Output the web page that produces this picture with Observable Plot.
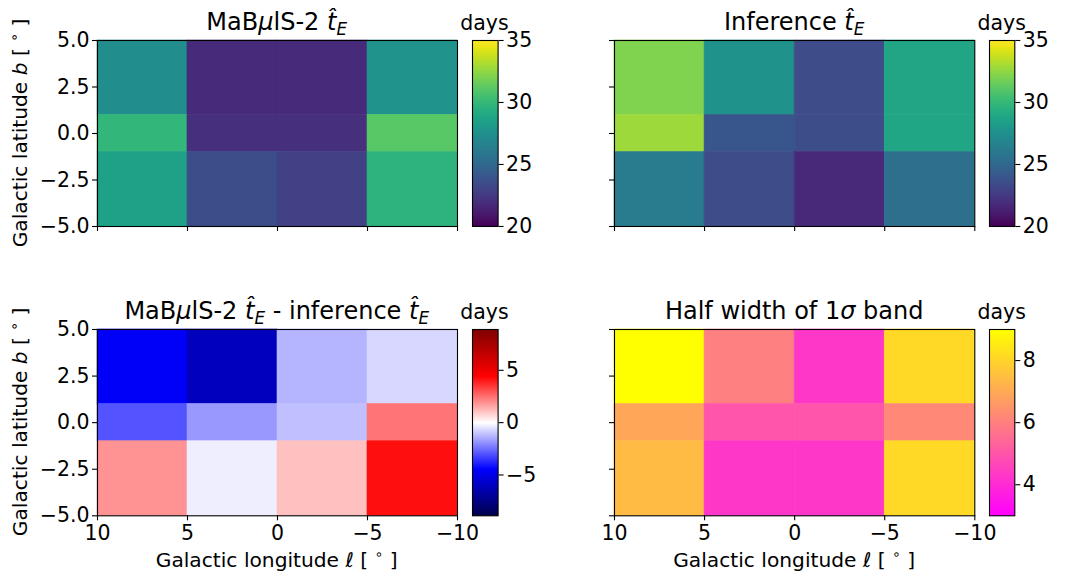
<!DOCTYPE html>
<html><head><meta charset="utf-8">
<script src="https://cdn.jsdelivr.net/npm/d3@7"></script>
<script src="https://cdn.jsdelivr.net/npm/@observablehq/plot@0.6"></script>
<style>
body{margin:0;background:#fff;}
#fig{position:relative;width:1070px;height:580px;background:#fff;overflow:hidden;font-family:"DejaVu Sans";}
#fig svg{position:absolute;overflow:visible;}
</style></head><body><div id="fig"></div>
<script>
// bin edges
const lonEdges = [10, 5, 0, -5, -10];        // ℓ, left to right
const latEdges = [5, 1, -1, -5];             // b, top to bottom
const lonTicks = [10, 5, 0, -5, -10];
const latTicks = [-5, -2.5, 0, 2.5, 5];
// rows: b 1..5, b -1..1, b -5..-1 ; columns: ℓ 10..5, 5..0, 0..-5, -5..-10
const mabulsTE = [
  [27.3, 21.8, 21.8, 27.7],
  [29.9, 22.1, 22.1, 31.1],
  [28.5, 23.5, 22.9, 29.7]
];
const inferenceTE = [
  [32.1, 27.6, 23.4, 28.8],
  [32.8, 24.0, 23.5, 28.9],
  [26.2, 23.4, 21.7, 25.4]
];
const diffTE = [
  [-4.6, -6.1, -1.3, -0.7],
  [-3.0, -1.8, -1.1, 2.4],
  [1.9, -0.3, 1.1, 4.2]
];
const halfWidth = [
  [9.0, 6.0, 4.3, 8.1],
  [6.9, 5.0, 5.0, 6.2],
  [7.4, 4.3, 4.3, 8.1]
];
const teDomain = [20, 35];
const teTicks = [20, 25, 30, 35];
const diffDomain = [-8.9, 8.9];
const diffTicks = [-5, 0, 5];
const widthDomain = [3, 9];
const widthTicks = [4, 6, 8];

const seismic = ["rgb(0,0,77)", "rgb(0,0,255)", "rgb(255,255,255)", "rgb(255,0,0)", "rgb(128,0,0)"];
const colorTE = {type: "linear", scheme: "viridis", domain: teDomain, clamp: true};
const colorDiff = {type: "linear", domain: [diffDomain[0], diffDomain[0]/2, 0, diffDomain[1]/2, diffDomain[1]], range: seismic, interpolate: "rgb", clamp: true};
const colorWidth = {type: "linear", domain: widthDomain, range: ["#ff00ff", "#ffff00"], interpolate: "rgb", clamp: true};

const fig = document.getElementById("fig");
const FS = 20.5;   // tick labels
const LS = 20.2;   // axis labels
const TS = 24;     // titles
const baseStyle = {fontFamily: '"DejaVu Sans"', fontSize: FS + "px", color: "#000", background: "transparent", overflow: "visible"};

function cellsOf(values) {
  const out = [];
  values.forEach((row, i) => row.forEach((v, j) => out.push({
    l1: lonEdges[j], l2: lonEdges[j + 1], b1: latEdges[i + 1], b2: latEdges[i], v
  })));
  return out;
}

const M = {l: 110, r: 20, t: 50, b: 80};
function heatmap(fr, values, color, showX, showY) {
  const w = fr.x1 - fr.x0, h = fr.y1 - fr.y0;
  const svg = Plot.plot({
    width: w + M.l + M.r, height: h + M.t + M.b,
    marginLeft: M.l, marginRight: M.r, marginTop: M.t, marginBottom: M.b,
    style: baseStyle,
    x: {type: "linear", domain: [10, -10]},
    y: {type: "linear", domain: [-5, 5]},
    color,
    marks: [
      Plot.rect(cellsOf(values), {x1: "l1", x2: "l2", y1: "b1", y2: "b2", fill: "v", stroke: "v", strokeWidth: 0.6}),
      Plot.frame({stroke: "#000", strokeWidth: 1.1}),
      Plot.axisX({ticks: lonTicks, tickSize: 5, tickPadding: 5, strokeWidth: 1.1, label: null,
        tickFormat: showX ? d3.format("d") : () => ""}),
      Plot.axisY({ticks: latTicks, tickSize: 5, tickPadding: 3, strokeWidth: 1.1, label: null,
        tickFormat: showY ? d3.format(".1f") : () => ""})
    ]
  });
  svg.style.left = (fr.x0 - M.l) + "px";
  svg.style.top = (fr.y0 - M.t) + "px";
  fig.appendChild(svg);
}

const C = {l: 10, r: 60, t: 50, b: 30};
function colorbar(fr, color, domain, ticks, fmt) {
  const w = fr.x1 - fr.x0, h = fr.y1 - fr.y0;
  const svg = Plot.plot({
    width: w + C.l + C.r, height: h + C.t + C.b,
    marginLeft: C.l, marginRight: C.r, marginTop: C.t, marginBottom: C.b,
    style: baseStyle,
    x: {domain: [0, 1], axis: null},
    y: {type: "linear", domain},
    color,
    marks: [
      Plot.raster({x1: 0, x2: 1, y1: domain[0], y2: domain[1], fill: (x, y) => y, width: 2, height: 400}),
      Plot.frame({stroke: "#000", strokeWidth: 1.1}),
      Plot.axisY({anchor: "right", ticks, tickFormat: fmt, tickSize: 5, tickPadding: 3, strokeWidth: 1.1, label: null})
    ]
  });
  svg.style.left = (fr.x0 - C.l) + "px";
  svg.style.top = (fr.y0 - C.t) + "px";
  fig.appendChild(svg);
}

const P1 = {x0: 96.7, x1: 456.7, y0: 40, y1: 226};
const P2 = {x0: 614, x1: 974.3, y0: 40, y1: 226};
const P3 = {x0: 96.7, x1: 456.7, y0: 328.7, y1: 515};
const P4 = {x0: 614, x1: 974.3, y0: 328.7, y1: 515};
const CB1 = {x0: 471.7, x1: 497.3, y0: 40, y1: 226};
const CB2 = {x0: 989, x1: 1014.3, y0: 40, y1: 226};
const CB3 = {x0: 471.7, x1: 497.3, y0: 328.7, y1: 515};
const CB4 = {x0: 989, x1: 1014.3, y0: 328.7, y1: 515};

heatmap(P1, mabulsTE, colorTE, false, true);
heatmap(P2, inferenceTE, colorTE, false, false);
heatmap(P3, diffTE, colorDiff, true, true);
heatmap(P4, halfWidth, colorWidth, true, false);
colorbar(CB1, colorTE, teDomain, teTicks, d3.format("d"));
colorbar(CB2, colorTE, teDomain, teTicks, d3.format("d"));
colorbar(CB3, colorDiff, diffDomain, diffTicks, d3.format("d"));
colorbar(CB4, colorWidth, widthDomain, widthTicks, d3.format("d"));

// text overlay
const ov = d3.select(fig).append("svg").attr("width", 1070).attr("height", 580)
  .style("left", "0px").style("top", "0px").style("pointer-events", "none")
  .attr("font-family", '"DejaVu Sans"').attr("fill", "#000");

function rich(x, y, segs, size, rotate) {
  const t = ov.append("text").attr("x", x).attr("y", y).attr("text-anchor", "middle")
    .attr("font-size", size);
  if (rotate) t.attr("transform", `rotate(${rotate},${x},${y})`);
  let cur = 0;
  segs.forEach(([str, f]) => {
    f = f || "";
    let off = 0, fs = size;
    if (f.includes("_")) { off = 0.22 * size; fs = 0.7 * size; }
    if (f.includes("^")) { off = -0.42 * size; fs = 0.7 * size; }
    const ts = t.append("tspan").text(str).attr("font-size", fs).attr("dy", off - cur);
    if (f.includes("i")) ts.attr("font-style", "italic");
    cur = off;
  });
}
const that = [["t\u0302", "i"], ["E", "i_"]];
const cx = p => (p.x0 + p.x1) / 2;
const cy = p => (p.y0 + p.y1) / 2;
rich(cx(P1), P1.y0 - 10, [["MaB"], ["\u03bc", "i"], ["lS-2 "], ...that], TS);
rich(cx(P2), P2.y0 - 10, [["Inference "], ...that], TS);
rich(cx(P3), P3.y0 - 10, [["MaB"], ["\u03bc", "i"], ["lS-2 "], ...that, [" - inference "], ...that], TS);
rich(cx(P4), P4.y0 - 10, [["Half width of 1"], ["\u03c3", "i"], [" band"]], TS);
[CB1, CB2, CB3, CB4].forEach(c => rich(cx(c), c.y0 - 10, [["days"]], FS));
const xlab = [["Galactic longitude "], ["\u2113", "i"], [" [ "], ["\u2218", "^"], [" ]"]];
rich(cx(P3), P3.y1 + 52, xlab, LS);
rich(cx(P4), P4.y1 + 52, xlab, LS);
const ylab = [["Galactic latitude "], ["b", "i"], [" [ "], ["\u2218", "^"], [" ]"]];
rich(27, cy(P1), ylab, LS, -90);
rich(27, cy(P3), ylab, LS, -90);
</script></body></html>
